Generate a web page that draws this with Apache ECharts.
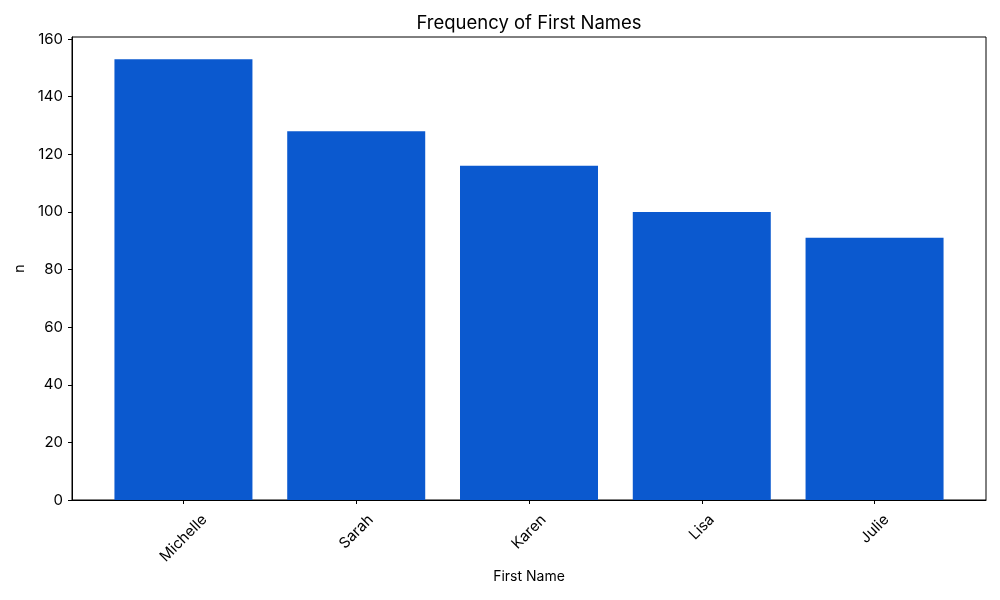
<!DOCTYPE html>
<html>
<head>
<meta charset="utf-8">
<script src="https://cdn.jsdelivr.net/npm/echarts@6/dist/echarts.min.js"></script>
<style>html,body{margin:0;padding:0;background:#fff}#c{width:1000px;height:600px}</style>
</head>
<body>
<div id="c"></div>
<script>
const names = ["Michelle", "Sarah", "Karen", "Lisa", "Julie"];
const counts = [153, 128, 116, 100, 91];
const yTicks = [0, 20, 40, 60, 80, 100, 120, 140, 160];

const font = "Inter, Roboto, 'DejaVu Sans', sans-serif";
const labelSize = 15;
const measureCtx = document.createElement('canvas').getContext('2d');
measureCtx.font = labelSize + 'px ' + font;

const chart = echarts.init(document.getElementById('c'), null, {renderer: 'canvas'});
const xIdx = names.map((n, i) => i);
chart.setOption({
  animation: false,
  backgroundColor: '#ffffff',
  title: {
    text: 'Frequency of First Names',
    left: 524, top: 9, textAlign: 'center',
    textStyle: {fontFamily: font, fontSize: 18.5, fontWeight: 'normal', color: '#000'}
  },
  grid: {left: 72, right: 14, top: 37, bottom: 100, show: true, borderColor: '#000', borderWidth: 1, backgroundColor: 'transparent'},
  xAxis: {
    type: 'value', min: -0.645, max: 4.645,
    name: 'First Name', nameLocation: 'middle', nameGap: 70,
    nameTextStyle: {fontFamily: font, fontSize: 14, color: '#000'},
    axisLine: {show: true, onZero: false, lineStyle: {color: '#000', width: 1}},
    axisTick: {show: true, length: 4, lineStyle: {color: '#000'}, customValues: xIdx},
    splitLine: {show: false},
    axisLabel: {show: false}
  },
  yAxis: {
    type: 'value', min: 0, max: 160.7,
    name: 'n', nameLocation: 'middle', nameGap: 45,
    nameTextStyle: {fontFamily: font, fontSize: 14, color: '#000'},
    axisLine: {show: true, onZero: false, lineStyle: {color: '#000', width: 1}},
    axisTick: {show: true, length: 4, lineStyle: {color: '#000'}, customValues: yTicks},
    splitLine: {show: false},
    axisLabel: {customValues: yTicks, fontFamily: font, fontSize: 15, color: '#000', margin: 9}
  },
  series: [{
    type: 'bar',
    data: names.map((n, i) => [i, counts[i]]),
    barWidth: 138,
    itemStyle: {color: '#0b59cf'}
  }, {
    type: 'custom',
    clip: false,
    silent: true,
    data: names.map((n, i) => [i, 0]),
    renderItem: function (params, api) {
      const i = api.value(0);
      const p = api.coord([i, 0]);
      const text = names[params.dataIndex];
      const L = measureCtx.measureText(text).width;
      const d = 13 + 0.3536 * (L + labelSize * 0.8);
      return {
        type: 'text',
        x: p[0], y: p[1] + d,
        rotation: Math.PI / 4,
        style: {
          text: text, fontFamily: font, fontSize: labelSize, fill: '#000',
          align: 'center', verticalAlign: 'middle'
        }
      };
    }
  }]
});
</script>
</body>
</html>
